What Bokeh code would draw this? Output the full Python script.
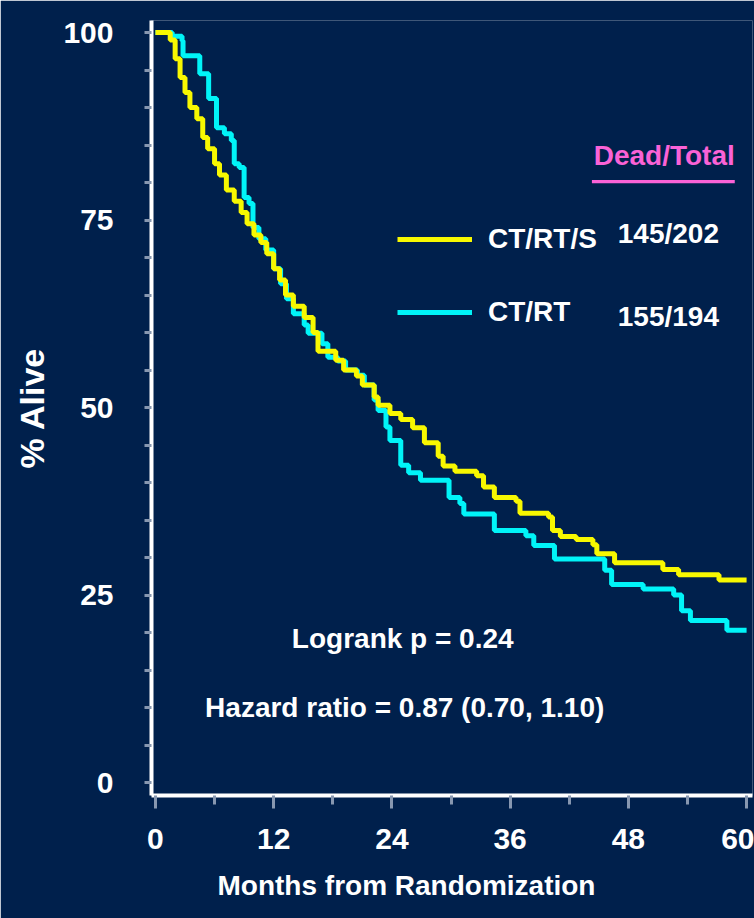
from bokeh.plotting import figure
from bokeh.models import Range1d, Label, Legend, LegendItem, BoxAnnotation, FixedTicker, Title
from bokeh.embed import file_html
from bokeh.resources import INLINE

# ---- data ----
series_names = ["CT/RT/S", "CT/RT"]
dead_total = ["145/202", "155/194"]
header_text = "Dead/Total"

months_s = [0, 1.5, 2.0, 2.5, 3.0, 3.5, 4.2, 4.8, 5.3, 6.0, 6.5, 7.2, 8.0, 8.7, 9.3, 10.0,
            10.7, 11.3, 12.0, 12.6, 13.2, 14.0, 15.1, 16.0, 16.5, 18.3, 19.1, 20.4, 21.0,
            22.2, 22.6, 23.8, 24.9, 26.1, 27.3, 28.7, 29.2, 30.4, 32.6, 33.3, 34.4, 36.6,
            37.0, 39.9, 40.3, 41.1, 42.7, 44.4, 44.8, 46.6, 51.5, 53.1, 57.2, 60.0]
surv_s = [100, 99, 96.5, 94, 92, 90, 88.5, 86, 84.5, 82.5, 81, 79, 77.5, 76, 74.5, 73,
          72, 70.5, 68.5, 67, 65, 63.5, 62, 60, 57.5, 56.3, 55, 54.2, 53,
          51.4, 50.3, 49.2, 48.4, 47.3, 45.3, 43.5, 42.2, 41.5, 40.9, 39.4, 38, 37.5,
          35.9, 35.4, 33.6, 32.8, 32.4, 31.7, 30.5, 29.3, 28.4, 27.7, 27.0, 27.0]

months_r = [0, 1.7, 2.7, 2.8, 4.5, 5.4, 6.2, 7.0, 7.7, 8.0, 8.5, 9.0, 9.5, 9.9, 10.5,
            11.2, 12.0, 12.7, 13.3, 14.0, 15.1, 15.5, 16.9, 17.5, 18.5, 19.3, 20.5, 21.2,
            22.2, 22.6, 23.4, 23.8, 24.9, 25.7, 26.9, 29.8, 30.9, 31.3, 34.4, 37.6, 38.4,
            40.5, 45.6, 46.3, 49.5, 52.6, 53.4, 54.3, 58.0, 60.0]
surv_r = [100, 99.5, 98.9, 96.9, 94.5, 91.2, 87.3, 86.5, 85.6, 82.5, 82, 78, 77.2, 74, 72.5,
          71, 68.5, 66.5, 64.5, 62.5, 61, 59.9, 58.5, 56.7, 56.2, 55, 54.3, 53,
          51, 49.6, 47.4, 45.6, 42.3, 41.3, 40.3, 38, 37.2, 35.8, 33.6, 32.9, 31.6,
          29.8, 28.3, 26.4, 25.8, 25.0, 22.9, 21.6, 20.3, 20.3]

x_ticks = [0, 12, 24, 36, 48, 60]
y_ticks = [0, 25, 50, 75, 100]
logrank_text = "Logrank p = 0.24"
hr_text = "Hazard ratio = 0.87 (0.70, 1.10)"
x_title = "Months from Randomization"
y_title = "% Alive"

# ---- style ----
BG = "#00204c"
YELLOW = "#f8f800"
CYAN = "#00f4f8"
PINK = "#fa62d6"
TICK = "#8797b0"
FONT = "Liberation Sans"

p = figure(width=754, height=918, output_backend="svg", toolbar_location=None,
           x_range=Range1d(-0.4, 60.6), y_range=Range1d(-1.73, 101.6),
           min_border_left=147, min_border_right=2, min_border_top=20,
           min_border_bottom=123, background_fill_color=BG, border_fill_color=BG,
           outline_line_color=None)
p.grid.visible = False

p.xaxis.ticker = FixedTicker(ticks=x_ticks, minor_ticks=list(range(6, 61, 12)))
p.yaxis.ticker = FixedTicker(ticks=y_ticks,
                             minor_ticks=[v for v in range(0, 101, 5) if v % 25])
for ax in (p.xaxis, p.yaxis):
    ax.axis_line_color = "white"
    ax.axis_line_width = 4
    ax.major_tick_line_color = TICK
    ax.minor_tick_line_color = TICK
    ax.major_tick_line_width = 3
    ax.minor_tick_line_width = 3
    ax.major_tick_in = 0
    ax.minor_tick_in = 0
    ax.major_label_text_font = FONT
    ax.major_label_text_font_size = "30px"
    ax.major_label_text_font_style = "bold"
    ax.major_label_text_color = "white"
p.xaxis.major_tick_out = 13
p.xaxis.minor_tick_out = 9
p.xaxis.major_label_standoff = 20
p.yaxis.major_tick_out = 7
p.yaxis.minor_tick_out = 7
p.yaxis.major_label_standoff = 31

r_ct = p.step(months_r, surv_r, mode="after", line_color=CYAN, line_width=5)
r_cts = p.step(months_s, surv_s, mode="after", line_color=YELLOW, line_width=5)

legend = Legend(items=[LegendItem(label=series_names[0], renderers=[r_cts]),
                       LegendItem(label=series_names[1], renderers=[r_ct])],
                location=(246, 463), orientation="vertical", glyph_width=75,
                glyph_height=40, label_height=40, spacing=33, padding=0, margin=0,
                label_standoff=16, background_fill_alpha=0, border_line_color=None,
                label_text_font=FONT, label_text_font_size="28px",
                label_text_font_style="bold", label_text_color="white")
p.add_layout(legend)

def lab(x, y, text, color="white", size="28px", align="left", baseline="alphabetic"):
    p.add_layout(Label(x=x, y=y, text=text, text_color=color, text_font=FONT,
                       text_font_size=size, text_font_style="bold", text_align=align,
                       text_baseline=baseline))

lab(58.8, 83.6, header_text, color=PINK, align="right")
p.add_layout(BoxAnnotation(left=44.3, right=58.8, bottom=79.9, top=80.35,
                           fill_color=PINK, fill_alpha=1.0, line_color=None))
lab(57.2, 73.2, dead_total[0], align="right")
lab(57.2, 62.2, dead_total[1], align="right")
lab(25.1, 19.2, logrank_text, align="center")
lab(25.3, 10.0, hr_text, align="center")

p.add_layout(Title(text=x_title, align="left", offset=66, standoff=33,
                   text_font=FONT, text_font_size="28px", text_font_style="bold",
                   text_color="white"), "below")
p.add_layout(Title(text=y_title, align="center", standoff=20,
                   text_font=FONT, text_font_size="34px", text_font_style="bold",
                   text_color="white"), "left")

open("out.html", "w").write(file_html(p, INLINE))
